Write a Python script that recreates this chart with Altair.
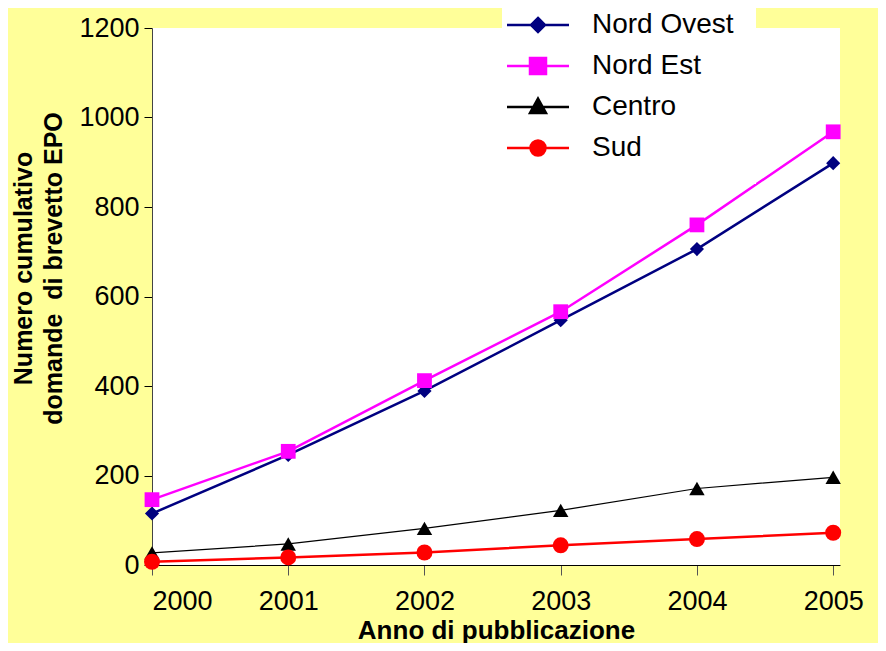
import altair as alt
import pandas as pd

years = [2000, 2001, 2002, 2003, 2004, 2005]
series = ["Nord Ovest", "Nord Est", "Centro", "Sud"]
nord_ovest = [115, 246, 389, 547, 706, 898]
nord_est = [146, 254, 412, 566, 760, 968]
centro = [27, 47, 82, 122, 171, 196]
sud = [7, 17, 28, 44, 58, 72]

colors = ["#000080", "#FF00FF", "#000000", "#FF0000"]
shapes = ["diamond", "square", "triangle-up", "circle"]
sizes = [200, 256, 260, 256]

legend_paths = [
    "M-3.1,0L3.1,0M0,-0.7L0.7,0L0,0.7L-0.7,0Z",
    "M-3.1,0L3.1,0M-0.8,-0.8L0.8,-0.8L0.8,0.8L-0.8,0.8Z",
    "M-3.1,0L3.1,0M0,-0.85L0.8,0.6L-0.8,0.6Z",
    "M-3.1,0L3.1,0M-0.75,0A0.75,0.75 0 1,0 0.75,0A0.75,0.75 0 1,0 -0.75,0Z",
]

rows = []
for name, vals in zip(series, [nord_ovest, nord_est, centro, sud]):
    for y, v in zip(years, vals):
        rows.append({"anno": y, "valore": v, "serie": name, "legenda": name})
df = pd.DataFrame(rows)

FONT = "Arial, Liberation Sans"

x = alt.X("anno:Q",
          scale=alt.Scale(domain=[2000, 2005.05], nice=False, zero=False),
          axis=alt.Axis(values=years, format="d", title="Anno di pubblicazione",
                        grid=False, tickSize=10, labelPadding=13,
                        labelFontSize=27, titleFontSize=26, titleFontWeight="bold",
                        titlePadding=3, labelFont=FONT, titleFont=FONT,
                        domainColor="#000000", tickColor="#555555",
                        labelColor="#000000", titleColor="#000000"))
y = alt.Y("valore:Q",
          scale=alt.Scale(domain=[0, 1200], nice=False),
          axis=alt.Axis(values=[0, 200, 400, 600, 800, 1000, 1200], format="d",
                        title=["Numero cumulativo", "domande\u00a0 di brevetto EPO"],
                        grid=False, tickSize=8, labelPadding=5,
                        labelFontSize=27, titleFontSize=25, titleFontWeight="bold",
                        labelFont=FONT, titleFont=FONT, titleLineHeight=30,
                        titleAngle=-90, titleX=-141, titleY=240,
                        titleBaseline="top", titleAlign="center",
                        domainColor="#444444", tickColor="#000000",
                        labelColor="#000000", titleColor="#000000"))

color_scale = alt.Scale(domain=series, range=colors)

lines = alt.Chart(df).mark_line().encode(
    x=x, y=y,
    color=alt.Color("serie:N", scale=color_scale, legend=None),
    strokeWidth=alt.condition("datum.serie == 'Centro'", alt.value(1.2), alt.value(2.5)),
    detail="serie:N",
)

points = alt.Chart(df).mark_point(filled=True, opacity=1).encode(
    x=x, y=y,
    color=alt.Color("serie:N", scale=color_scale, legend=None),
    shape=alt.Shape("serie:N", scale=alt.Scale(domain=series, range=shapes), legend=None),
    size=alt.Size("serie:N", scale=alt.Scale(domain=series, range=sizes), legend=None),
)

leg = alt.Legend(title=None, orient="none", legendX=350, legendY=-39,
                 fillColor="#FFFFFF", padding=22, symbolSize=400,
                 symbolStrokeWidth=2.5, labelOffset=40, rowPadding=13,
                 labelFontSize=28, labelFont=FONT, labelColor="#000000",
                 labelLimit=400, symbolOpacity=1)

legend_layer = alt.Chart(df).transform_filter("datum.valore < 0").mark_point(filled=True).encode(
    x=x, y=y,
    fill=alt.Fill("legenda:N", scale=alt.Scale(domain=series, range=colors), legend=leg),
    stroke=alt.Stroke("legenda:N", scale=alt.Scale(domain=series, range=colors), legend=leg),
    shape=alt.Shape("legenda:N", scale=alt.Scale(domain=series, range=legend_paths), legend=leg),
)

chart = alt.layer(lines, points, legend_layer).resolve_scale(
    color="independent", shape="independent", size="independent",
    fill="independent", stroke="independent"
).properties(
    width=688, height=537,
    background="#FFFF99",
    padding={"left": 144, "top": 20, "right": 38, "bottom": 78},
    autosize=alt.AutoSizeParams(type="none"),
).configure_view(fill="#FFFFFF", stroke=None)

chart.save("out.html", embed_options={"renderer": "svg", "actions": False})
